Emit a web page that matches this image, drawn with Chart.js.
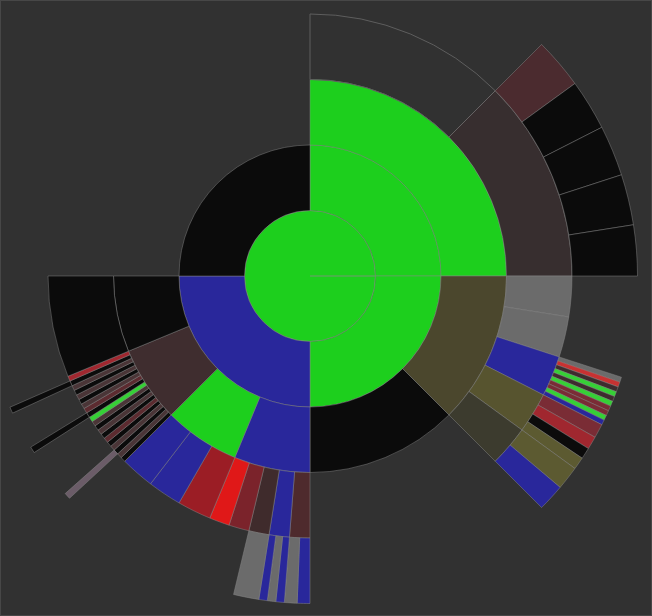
<!DOCTYPE html>
<html>
<head>
<meta charset="utf-8">
<title>Sunburst</title>
<script src="https://cdn.jsdelivr.net/npm/chart.js@4.4.0/dist/chart.umd.min.js"></script>
<style>
    html, body { margin: 0; padding: 0; background: #313131; overflow: hidden; }
    #frame { position: relative; width: 652px; height: 616px; overflow: hidden; box-sizing: border-box; border: 1px solid #474747; }
    #sunburst { position: absolute; left: -19px; top: -53px; }
</style>
</head>
<body>
<div id="frame"><canvas id="sunburst" width="656" height="656"></canvas></div>
<script>
// Angular spans in degrees, clockwise from 12 o'clock, one array per ring (inside -> outside)
// null = empty slot, 'outline' = drawn border only
const rootValues = [360];
const rootColors = ['green'];

const ring1Values = [90, 90, 90, 90];
const ring1Colors = ['green', 'green', 'blue', 'black'];

const ring2Values = [90, 45, 45, 22.5, 22.5, 22.5, 22.5, 90];
const ring2Colors = ['green', 'olive', 'black', 'blue', 'green', 'brown', 'black', null];

const ring3Values = [
    45, 45, 9, 9, 9, 9, 9, 45,
    4.5, 4.5, 4.5, 4.5, 4.5,
    7.5, 7.5, 7.5,
    1.125, 1.125, 1.125, 1.125, 1.125, 1.125, 1.125, 1.125, 1.125, 1.125,
    1.125, 1.125, 1.125, 1.125, 1.125, 1.125, 1.125, 1.125, 1.125, 1.125,
    22.5, 90
];
const ring3Colors = [
    'outline', 'taupe', 'grey', 'grey', 'blue', 'khaki', 'moss', null,
    'wine', 'blue', 'darkbrown', 'darkred', 'red',
    'crimson', 'blue', 'blue',
    'black', 'stripe', 'black', 'stripe', 'black', 'rust', 'black', 'stripe', 'black', 'stripe',
    'lime', 'black', 'rust', 'stripe', 'black', 'stripe', 'black', 'stripe', 'black', 'scarlet',
    'black', null
];

const ring4Values = [
    45, 9, 9, 9, 9, 9, 18,
    0.9, 0.9, 0.9, 0.9, 0.9, 0.9, 0.9, 0.9, 0.9, 0.9,
    2.5, 2.3, 2.0, 2.2, 4.2, 4.8,
    45,
    2.25, 2.25, 1.5, 1.5, 1.5, 4.5,
    33.75, 1.125, 9, 1.125, 6.75, 1.125, 113.625
];
const ring4Colors = [
    null, 'maroon', 'black', 'black', 'black', 'black', null,
    'grey', 'brightred', 'mud', 'lime', 'mud', 'lime', 'ruby', 'ruby', 'lime', 'blue',
    'ruby', 'scarlet', 'black', 'khaki2', 'khaki2', 'blue',
    null,
    'blue', 'grey', 'blue', 'grey', 'blue', 'grey',
    null, 'mauve', null, 'black', null, 'black', null
];

const palette = {
    green: '#1dcf1d', blue: '#29279b', black: '#0b0b0b', olive: '#4b472d',
    brown: '#3f2d2f', taupe: '#372e2f', grey: '#6b6b6b', khaki: '#57542f',
    moss: '#3c3b2e', wine: '#4e2a2d', darkbrown: '#3f2b2c', darkred: '#7b232b',
    red: '#e01818', crimson: '#9b1d25', maroon: '#4b2b2f', stripe: '#4a3537',
    rust: '#5c2b30', scarlet: '#a0272f', lime: '#36d036', mauve: '#6b5c68',
    brightred: '#c83232', mud: '#3e2c2e', khaki2: '#5c5a31', ruby: '#7a2c35'
};
const lineColor = 'rgba(140,140,140,0.45)';
const none = 'rgba(0,0,0,0)';

function ringDataset(values, colors, extra) {
    return Object.assign({
        data: values,
        backgroundColor: colors.map(c => (c && c !== 'outline') ? palette[c] : none),
        borderColor: colors.map(c => c === 'outline' ? '#5e5e5e' : (c ? lineColor : none)),
        borderWidth: 1,
        hoverOffset: 0
    }, extra || {});
}

function createSunburst() {
    const ctx = document.getElementById('sunburst').getContext('2d');
    // Chart.js draws dataset 0 as the outermost ring
    new Chart(ctx, {
        type: 'doughnut',
        data: {
            datasets: [
                ringDataset(ring4Values, ring4Colors),
                ringDataset(ring3Values, ring3Colors),
                ringDataset(ring2Values, ring2Colors),
                ringDataset(ring1Values, ring1Colors),
                ringDataset(rootValues, rootColors, { rotation: 90 })
            ]
        },
        options: {
            responsive: false,
            animation: false,
            events: [],
            cutout: 0,
            layout: { padding: 0 },
            plugins: {
                legend: { display: false },
                tooltip: { enabled: false }
            }
        }
    });
}

createSunburst();
</script>
</body>
</html>
